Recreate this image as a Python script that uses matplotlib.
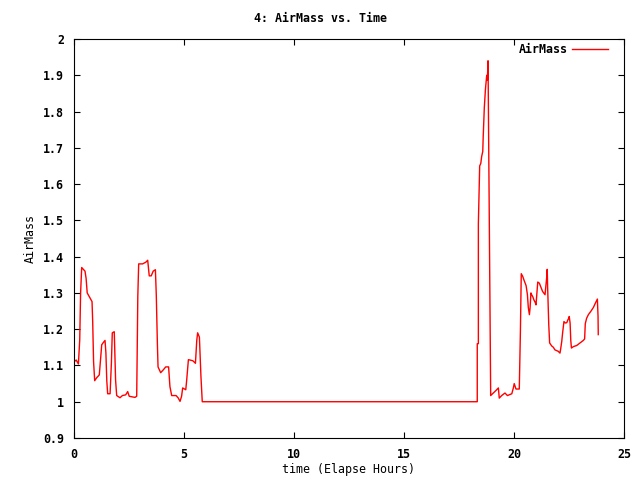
import matplotlib
matplotlib.use("Agg")
import matplotlib.pyplot as plt
from matplotlib.ticker import FuncFormatter

# elapsed hours and air mass
hours = [0.0, 0.1, 0.2, 0.26, 0.30, 0.35, 0.5, 0.55, 0.6, 0.73, 0.82, 0.85, 0.89, 0.94,
         1.03, 1.15, 1.21, 1.26, 1.33, 1.41, 1.45, 1.49, 1.53, 1.64, 1.70, 1.74, 1.83,
         1.89, 1.94, 2.09, 2.20, 2.35, 2.44, 2.51, 2.77, 2.85, 2.90, 2.94, 3.12, 3.27,
         3.35, 3.40, 3.42, 3.51, 3.60, 3.70, 3.74, 3.79, 3.82, 3.94, 4.06, 4.17, 4.30,
         4.36, 4.44, 4.64, 4.73, 4.82, 4.89, 4.94, 5.08, 5.12, 5.20, 5.40, 5.52, 5.58,
         5.62, 5.70, 5.77, 5.83,
         18.33, 18.33, 18.38, 18.38, 18.44, 18.49, 18.53, 18.58, 18.60, 18.65, 18.70,
         18.73, 18.76, 18.79, 18.82, 18.85, 18.91, 18.94, 19.06, 19.18, 19.29, 19.33,
         19.44, 19.59, 19.70, 19.90, 19.97, 20.01, 20.09, 20.24, 20.29, 20.33, 20.40,
         20.45, 20.55, 20.61, 20.65, 20.70, 20.73, 20.77, 20.80, 20.85, 20.91, 20.97,
         21.0, 21.03, 21.08, 21.15, 21.21, 21.30, 21.41, 21.45, 21.49, 21.51, 21.53,
         21.58, 21.62, 21.71, 21.79, 21.86, 22.01, 22.09, 22.12, 22.17, 22.21, 22.27,
         22.33, 22.40, 22.45, 22.49, 22.51, 22.55, 22.58, 22.61, 22.70, 22.85, 23.0,
         23.15, 23.21, 23.24, 23.30, 23.38, 23.49, 23.61, 23.70, 23.79, 23.82, 23.83]
airmass = [1.11, 1.115, 1.104, 1.17, 1.30, 1.37, 1.36, 1.34, 1.30, 1.286, 1.276, 1.22, 1.11, 1.058,
           1.066, 1.074, 1.118, 1.157, 1.163, 1.169, 1.135, 1.058, 1.022, 1.022, 1.107, 1.19, 1.193,
           1.06, 1.017, 1.011, 1.017, 1.019, 1.028, 1.015, 1.012, 1.015, 1.29, 1.38, 1.38, 1.385,
           1.39, 1.36, 1.347, 1.347, 1.36, 1.364, 1.295, 1.16, 1.096, 1.08, 1.088, 1.096, 1.096,
           1.042, 1.017, 1.017, 1.011, 1.001, 1.015, 1.038, 1.033, 1.058, 1.116, 1.113, 1.106, 1.169,
           1.19, 1.178, 1.07, 1.0,
           1.0, 1.16, 1.16, 1.49, 1.65, 1.657, 1.676, 1.69, 1.73, 1.81, 1.86,
           1.88, 1.90, 1.887, 1.94, 1.71, 1.25, 1.017, 1.024, 1.031, 1.038, 1.01,
           1.017, 1.024, 1.017, 1.022, 1.038, 1.05, 1.035, 1.035, 1.19, 1.353, 1.345,
           1.336, 1.32, 1.295, 1.26, 1.24, 1.258, 1.30, 1.295, 1.29, 1.28, 1.273,
           1.267, 1.29, 1.33, 1.327, 1.318, 1.304, 1.295, 1.32, 1.345, 1.365, 1.313,
           1.212, 1.162, 1.154, 1.15, 1.143, 1.139, 1.134, 1.145, 1.166, 1.19, 1.221,
           1.217, 1.218, 1.226, 1.23, 1.235, 1.217, 1.17, 1.148, 1.152, 1.155, 1.162,
           1.169, 1.173, 1.215, 1.23, 1.24, 1.249, 1.26, 1.272, 1.283, 1.235, 1.185]

plt.rcParams['font.family'] = 'DejaVu Sans Mono'
plt.rcParams['font.weight'] = 'bold'
plt.rcParams['font.size'] = 8.4

fig = plt.figure(figsize=(6.4, 4.8), dpi=100)
ax = fig.add_axes([74/640, 1-438/480, 550/640, 399/480])

ax.plot(hours, airmass, color='red', linewidth=1, label='AirMass')

ax.set_xlim(0, 25)
ax.set_ylim(0.9, 2.0)
ax.set_xticks([0, 5, 10, 15, 20, 25])
ax.set_yticks([0.9, 1.0, 1.1, 1.2, 1.3, 1.4, 1.5, 1.6, 1.7, 1.8, 1.9, 2.0])
ax.yaxis.set_major_formatter(FuncFormatter(lambda v, p: '%g' % round(v, 2)))
ax.tick_params(direction='in', top=True, right=True, length=4.5, width=0.8, pad=7)
for s in ax.spines.values():
    s.set_linewidth(0.8)

ax.set_xlabel('time (Elapse Hours)', va='center')
ax.xaxis.set_label_coords(0.5, -(469 - 438) / 399)
ax.set_ylabel('AirMass', va='center')
ax.yaxis.set_label_coords(-(74 - 30) / 550, 0.5)
fig.suptitle('4: AirMass vs. Time', y=0.975, fontsize=8.4, fontweight='bold')

leg = ax.legend(loc='upper right', frameon=False, markerfirst=False, handlelength=3.1,
                bbox_to_anchor=(1 - 16/550, 1 - 4/399), borderaxespad=0, borderpad=0,
                handletextpad=0.35)

fig.savefig('out.png', dpi=100)
